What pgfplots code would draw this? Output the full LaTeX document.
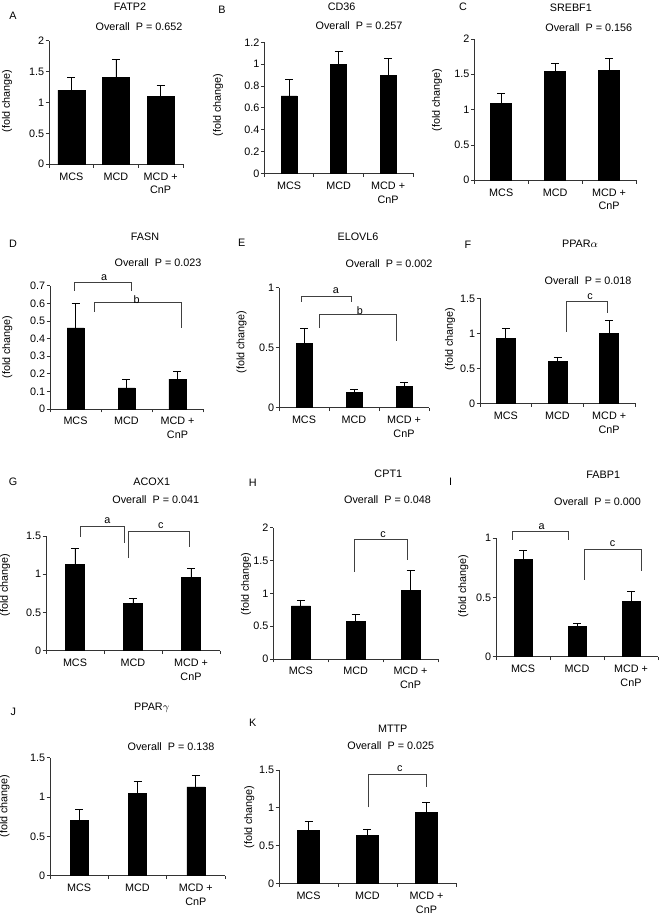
\documentclass[border=0pt]{standalone}
\usepackage{fontspec}
\setmainfont{Liberation Sans}
\usepackage{pgfplots}
\pgfplotsset{compat=1.18}
\newcommand\lbl{\fontsize{8.1}{10.4}\selectfont}
\tikzset{brk/.style={black!75, line width=0.6pt}}
\pgfplotsset{
  panel/.style={
    scale only axis,
    axis x line*=bottom, axis y line*=left,
    axis line style={black!80, line width=0.6pt},
    xmin=-0.5, xmax=2.5, ymin=0,
    xtick={-0.5,0.5,1.5,2.5},
    x tick label as interval,
    xticklabels={MCS,MCD,{MCD +\\CnP}},
    xticklabel style={align=center, font=\lbl, inner sep=1pt, yshift=-2.5pt},
    yticklabel style={font=\lbl, inner sep=1pt, /pgf/number format/assume math mode=true, /pgf/number format/fixed},
    tick align=outside, major tick length=2.5pt,
    tick style={black!80, line width=0.6pt},
    anchor=south west,
    clip=false,
  },
  bars/.style={ybar, fill=black, draw=black, line width=0.4pt,
    error bars/.cd, y dir=plus, y explicit,
    error bar style={black, line width=0.6pt},
    error mark options={rotate=90, mark size=3pt, line width=0.6pt, black}},
}
\begin{document}
\begin{tikzpicture}
\useasboundingbox (0pt,0pt) rectangle (495pt,-686.25pt);
% ---------- A FATP2
\begin{axis}[panel, at={(36.75pt,-123.2pt)}, width=100.5pt, height=92.7pt,
  ymax=2, ytick={0,0.5,1,1.5,2}]
\addplot[bar width=20.25pt, bars] coordinates {(0,1.20) +- (0,0.21) (1,1.40) +- (0,0.30) (2,1.10) +- (0,0.17)};
\end{axis}
% ---------- B CD36
\begin{axis}[panel, at={(198.2pt,-130.0pt)}, width=111.5pt, height=98.25pt,
  ymax=1.2, ytick={0,0.2,0.4,0.6,0.8,1,1.2}]
\addplot[bar width=12pt, bars] coordinates {(0,0.71) +- (0,0.15) (1,1.0) +- (0,0.12) (2,0.90) +- (0,0.15)};
\end{axis}
% ---------- C SREBF1
\begin{axis}[panel, at={(355.7pt,-135.2pt)}, width=121.3pt, height=106.0pt,
  ymax=2, ytick={0,0.5,1,1.5,2}]
\addplot[bar width=15.75pt, bars] coordinates {(0,1.085) +- (0,0.145) (1,1.543) +- (0,0.11) (2,1.56) +- (0,0.16)};
\end{axis}
% ---------- D FASN
\begin{axis}[panel, at={(37.5pt,-306.75pt)}, width=114.75pt, height=92.5pt,
  ymax=0.7, ytick={0,0.1,0.2,0.3,0.4,0.5,0.6,0.7}]
\addplot[bar width=12.75pt, bars] coordinates {(0,0.46) +- (0,0.14) (1,0.12) +- (0,0.05) (2,0.17) +- (0,0.045)};
\draw[brk] (axis cs:-0.03,0.672) -- (axis cs:-0.03,0.717) -- (axis cs:1.1,0.717) -- (axis cs:1.1,0.672);
\node[font=\lbl, anchor=south, inner sep=1.5pt] at (axis cs:0.56,0.717) {a};
\draw[brk] (axis cs:0.37,0.553) -- (axis cs:0.37,0.606) -- (axis cs:2.08,0.606) -- (axis cs:2.08,0.458);
\node[font=\lbl, anchor=south, inner sep=0pt] at (axis cs:1.2,0.598) {b};
\end{axis}
% ---------- E ELOVL6
\begin{axis}[panel, at={(209.25pt,-305.8pt)}, width=112.5pt, height=90pt,
  ymax=1, ytick={0,0.5,1}]
\addplot[bar width=12pt, bars] coordinates {(0,0.535) +- (0,0.125) (1,0.125) +- (0,0.028) (2,0.18) +- (0,0.03)};
\draw[brk] (axis cs:-0.046,0.883) -- (axis cs:-0.046,0.93) -- (axis cs:0.954,0.93) -- (axis cs:0.954,0.883);
\node[font=\lbl, anchor=south, inner sep=1.5pt] at (axis cs:0.64,0.93) {a};
\draw[brk] (axis cs:0.306,0.664) -- (axis cs:0.306,0.778) -- (axis cs:1.84,0.778) -- (axis cs:1.84,0.558);
\node[font=\lbl, anchor=south, inner sep=0pt] at (axis cs:1.12,0.77) {b};
\end{axis}
% ---------- F PPARalpha
\begin{axis}[panel, at={(360pt,-302.5pt)}, width=116.25pt, height=78.75pt,
  ymax=1.5, ytick={0,0.5,1,1.5}]
\addplot[bar width=14.25pt, bars] coordinates {(0,0.93) +- (0,0.14) (1,0.595) +- (0,0.055) (2,1.0) +- (0,0.19)};
\draw[brk] (axis cs:1.18,1.02) -- (axis cs:1.18,1.45) -- (axis cs:1.96,1.45) -- (axis cs:1.96,1.29);
\node[font=\lbl, anchor=south, inner sep=1.5pt] at (axis cs:1.63,1.45) {c};
\end{axis}
% ---------- G ACOX1
\begin{axis}[panel, at={(34.5pt,-488.0pt)}, width=130.5pt, height=86.0pt,
  ymax=1.5, ytick={0,0.5,1,1.5}]
\addplot[bar width=14pt, bars] coordinates {(0,1.13) +- (0,0.21) (1,0.62) +- (0,0.07) (2,0.96) +- (0,0.12)};
\draw[brk] (axis cs:0.086,1.49) -- (axis cs:0.086,1.63) -- (axis cs:0.845,1.63) -- (axis cs:0.845,1.41);
\node[font=\lbl, anchor=south, inner sep=1.5pt] at (axis cs:0.557,1.63) {a};
\draw[brk] (axis cs:0.92,1.21) -- (axis cs:0.92,1.565) -- (axis cs:1.98,1.565) -- (axis cs:1.98,1.35);
\node[font=\lbl, anchor=south, inner sep=1.5pt] at (axis cs:1.48,1.565) {c};
\end{axis}
% ---------- H CPT1
\begin{axis}[panel, at={(205.0pt,-494.25pt)}, width=123.5pt, height=98.5pt,
  ymax=2, ytick={0,0.5,1,1.5,2}]
\addplot[bar width=14.25pt, bars] coordinates {(0,0.81) +- (0,0.09) (1,0.57) +- (0,0.115) (2,1.05) +- (0,0.295)};
\draw[brk] (axis cs:0.985,1.33) -- (axis cs:0.985,1.82) -- (axis cs:1.95,1.82) -- (axis cs:1.95,1.51);
\node[font=\lbl, anchor=south, inner sep=1.5pt] at (axis cs:1.5,1.82) {c};
\end{axis}
% ---------- I FABP1
\begin{axis}[panel, at={(372pt,-492.5pt)}, width=121.5pt, height=88.8pt,
  ymax=1, ytick={0,0.5,1}]
\addplot[bar width=13.5pt, bars] coordinates {(0,0.823) +- (0,0.077) (1,0.254) +- (0,0.026) (2,0.465) +- (0,0.09)};
\draw[brk] (axis cs:-0.19,0.986) -- (axis cs:-0.19,1.056) -- (axis cs:0.84,1.056) -- (axis cs:0.84,0.986);
\node[font=\lbl, anchor=south, inner sep=1.5pt] at (axis cs:0.346,1.056) {a};
\draw[brk] (axis cs:1.135,0.648) -- (axis cs:1.135,0.91) -- (axis cs:2.185,0.91) -- (axis cs:2.185,0.726);
\node[font=\lbl, anchor=south, inner sep=1.5pt] at (axis cs:1.66,0.91) {c};
\end{axis}
% ---------- J PPARgamma
\begin{axis}[panel, at={(37.5pt,-656.8pt)}, width=131.25pt, height=88.5pt,
  ymax=1.5, ytick={0,0.5,1,1.5}]
\addplot[bar width=13.5pt, bars] coordinates {(0,0.708) +- (0,0.135) (1,1.047) +- (0,0.148) (2,1.131) +- (0,0.139)};
\end{axis}
% ---------- K MTTP
\begin{axis}[panel, at={(209.25pt,-662.5pt)}, width=132.75pt, height=85.0pt,
  ymax=1.5, ytick={0,0.5,1,1.5}]
\addplot[bar width=16.5pt, bars] coordinates {(0,0.697) +- (0,0.128) (1,0.631) +- (0,0.089) (2,0.94) +- (0,0.13)};
\draw[brk] (axis cs:1.01,1.007) -- (axis cs:1.01,1.448) -- (axis cs:1.99,1.448) -- (axis cs:1.99,1.28);
\node[font=\lbl, anchor=south, inner sep=1.5pt] at (axis cs:1.55,1.448) {c};
\end{axis}
% ---------- texts
\begin{scope}[x=0.75pt, y=-0.75pt, every node/.style={font=\lbl, inner sep=0pt}]
% titles
\node at (130,7) {FATP2};
\node at (341.7,7) {CD36};
\node at (570.8,7.3) {SREBF1};
\node at (145,236.7) {FASN};
\node at (358,236.7) {ELOVL6};
\node at (580,243.3) {PPAR$\alpha$};
\node at (151.7,481.7) {ACOX1};
\node at (388.3,473.3) {CPT1};
\node at (603.3,475) {FABP1};
\node at (151.7,708.3) {PPAR$\gamma$};
\node at (392.7,728.3) {MTTP};
% letters
\node at (13,16) {A};
\node at (222,10) {B};
\node at (463,7) {C};
\node at (13,244) {D};
\node at (241.7,243) {E};
\node at (468,245) {F};
\node at (13,482) {G};
\node at (252.7,482.7) {H};
\node at (450.7,481.7) {I};
\node at (13.3,712.3) {J};
\node at (252.7,722.7) {K};
% overall P
\node at (139,27) {Overall\ \ P = 0.652};
\node at (359,25.7) {Overall\ \ P = 0.257};
\node at (588.8,28) {Overall\ \ P = 0.156};
\node at (158,262.7) {Overall\ \ P = 0.023};
\node at (389,264) {Overall\ \ P = 0.002};
\node at (588,280.7) {Overall\ \ P = 0.018};
\node at (155.8,499.3) {Overall\ \ P = 0.041};
\node at (387.5,500) {Overall\ \ P = 0.048};
\node at (597.5,501.7) {Overall\ \ P = 0.000};
\node at (171,746.7) {Overall\ \ P = 0.138};
\node at (390.8,745.7) {Overall\ \ P = 0.025};
% y labels
\node[rotate=90] at (7,101) {(fold change)};
\node[rotate=90] at (218,105) {(fold change)};
\node[rotate=90] at (437,100) {(fold change)};
\node[rotate=90] at (7.3,347) {(fold change)};
\node[rotate=90] at (241.7,342) {(fold change)};
\node[rotate=90] at (450,339) {(fold change)};
\node[rotate=90] at (5,585) {(fold change)};
\node[rotate=90] at (246,584) {(fold change)};
\node[rotate=90] at (463.3,586) {(fold change)};
\node[rotate=90] at (4.5,806) {(fold change)};
\node[rotate=90] at (249.3,817) {(fold change)};
\end{scope}
\end{tikzpicture}
\end{document}
